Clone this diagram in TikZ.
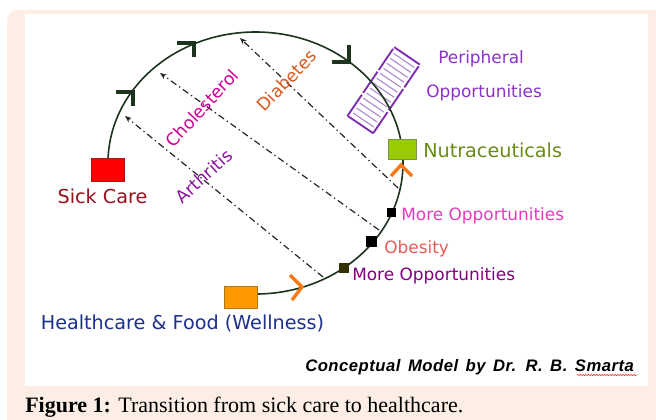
\documentclass[tikz,border=0pt]{standalone}
\usepackage{fontspec}
\setmainfont{DejaVu Sans}
\newfontfamily\serifcap{Liberation Serif}
\newfontfamily\creditsans[LetterSpace=3]{Liberation Sans}
\usetikzlibrary{arrows.meta,decorations.pathmorphing}

\definecolor{peach}{RGB}{252,238,228}
\definecolor{arcgreen}{RGB}{28,52,30}
\definecolor{sickred}{RGB}{150,18,28}
\definecolor{sickborder}{RGB}{170,20,20}
\definecolor{wellblue}{RGB}{28,48,140}
\definecolor{wellfill}{RGB}{255,153,0}
\definecolor{wellborder}{RGB}{170,120,30}
\definecolor{nutrafill}{RGB}{153,204,0}
\definecolor{nutraborder}{RGB}{120,150,70}
\definecolor{nutragreen}{RGB}{104,140,20}
\definecolor{periviolet}{RGB}{140,50,200}
\definecolor{oppink}{RGB}{228,60,190}
\definecolor{obesered}{RGB}{232,90,90}
\definecolor{opppurple}{RGB}{130,0,130}
\definecolor{cholmag}{RGB}{205,0,150}
\definecolor{diaborange}{RGB}{212,90,30}
\definecolor{arthpurple}{RGB}{140,20,160}
\definecolor{chevorange}{RGB}{250,120,20}
\definecolor{hatchline}{RGB}{125,45,175}
\definecolor{hatchrung}{RGB}{170,135,205}
\definecolor{darkolive}{RGB}{50,50,0}

\begin{document}
\begin{tikzpicture}
[x=0.75pt,y=-0.75pt,
 boxdecorate/.style={draw,line width=0.6pt,inner sep=0pt},
 squaredecorate/.style={draw,fill,inner sep=0pt},
 arcdecorate/.style={arcgreen,line width=1.2pt},
 darkchev/.style={arcgreen,line width=2.7pt,line join=miter},
 orangechev/.style={chevorange,line width=2.5pt,line join=miter},
 dashdecorate/.style={-{Stealth[length=5pt,width=4pt]},line width=0.9pt,black!85,
   dash pattern=on 5pt off 2.5pt on 1pt off 2.5pt},
 hatchside/.style={hatchline,line width=1.4pt},
 hatchrungs/.style={hatchrung,line width=0.8pt},
 smalllabel/.style={inner sep=0pt,font=\fontsize{12.7}{14}\selectfont},
 biglabel/.style={inner sep=0pt,font=\fontsize{14.4}{16}\selectfont},
 tiltlabel/.style={inner sep=0pt,font=\fontsize{13}{15}\selectfont}]
% page, frame and white panel
\useasboundingbox (0,0) rectangle (656,419);
\clip (0,0) rectangle (656,419);
\fill[white] (0,0) rectangle (656,419);
\fill[peach,rounded corners=8] (7,10) rectangle (690,450);
\fill[white] (25,14) rectangle (648,386);
% hatched block across the arc
\begin{scope}[shift={(383.7,90.2)},rotate=55.8]
  \foreach \s in {-41.5,-13.8,13.9}
  {
    \draw[hatchside] (\s,-15.5) -- ++(25.6,0);
    \draw[hatchside] (\s,15.5) -- ++(25.6,0);
  }
  \draw[hatchside] (-41.5,-15.5) -- (-41.5,15.5);
  \draw[hatchside] (41.5,-15.5) -- (41.5,15.5);
  \foreach \r in {-36,-30,...,36}
    \draw[hatchrungs] (\r,-12.5) -- (\r,12.5);
\end{scope}
% dash-dot transitions
\coordinate (arthlow) at (323,277);
\coordinate (arthup) at (125,116);
\coordinate (chollow) at (379,230);
\coordinate (cholup) at (160,73);
\coordinate (diablow) at (398,188);
\coordinate (diabup) at (240,38);
\draw[dashdecorate] (arthlow) -- (arthup);
\draw[dashdecorate] (chollow) -- (cholup);
\draw[dashdecorate] (diablow) -- (diabup);
% the arc
\coordinate (c) at (255.5,163);
\draw[arcdecorate] (c) ++(180:147.5 and 131)
  arc[start angle=180,end angle=450,x radius=147.5,y radius=131];
% chevrons on the arc
\coordinate (chev1) at (133,92);
\coordinate (chev2) at (194,43);
\coordinate (chev3) at (349,62);
\coordinate (chev4) at (302,287);
\coordinate (chev5) at (401,165);
\draw[darkchev] (chev1) ++(-17,0) -- ++(17,0) -- ++(0,14);
\draw[darkchev] (chev2) ++(-17,0) -- ++(17,0) -- ++(0,14);
\draw[darkchev] (chev3) ++(-17,0) -- ++(17,0) -- ++(0,-17);
\draw[orangechev] (chev4) ++(-12,-12) -- ++(12,12) -- ++(-10,13);
\draw[orangechev] (chev5) ++(-10,11) -- ++(10,-11) -- ++(11,11);
% boxes
\node (sick) at (107.5,169.5) [boxdecorate,fill=red,draw=sickborder,
  minimum width=24.75pt,minimum height=17.25pt] {};
\node (well) at (240.5,297) [boxdecorate,fill=wellfill,draw=wellborder,
  minimum width=24.75pt,minimum height=16.5pt] {};
\node (nutra) at (402,149) [boxdecorate,fill=nutrafill,draw=nutraborder,
  minimum width=21pt,minimum height=15pt] {};
\node (opp1) at (391,212) [squaredecorate,minimum size=6.2pt] {};
\node (obes) at (371,241.5) [squaredecorate,minimum size=7.4pt] {};
\node (opp2) at (344,268) [squaredecorate,fill=darkolive,draw=darkolive,minimum size=6.4pt] {};
% labels
\node (lsick) [biglabel,text=sickred,anchor=base] at (102.5,203) {Sick Care};
\node (lwell) [biglabel,text=wellblue,anchor=base] at (182.5,329) {Healthcare \& Food (Wellness)};
\node (lnutra) [biglabel,text=nutragreen,anchor=base west] at (423,157) {Nutraceuticals};
\node (lperi) [smalllabel,text=periviolet,anchor=base west] at (438,63) {Peripheral};
\node (lperi2) [smalllabel,text=periviolet,anchor=base west] at (426,97) {Opportunities};
\node (lopp1) [smalllabel,text=oppink,anchor=base west] at (401,220) {More Opportunities};
\node (lobes) [smalllabel,text=obesered,anchor=base west] at (384,253) {Obesity};
\node (lopp2) [smalllabel,text=opppurple,anchor=base west] at (352,280) {More Opportunities};
\node (lchol) [tiltlabel,text=cholmag,rotate=47] at (202,108) {Cholesterol};
\node (ldiab) [tiltlabel,text=diaborange,rotate=46] at (286.5,80.5) {Diabetes};
\node (larth) [tiltlabel,text=arthpurple,rotate=42] at (204,176) {Arthritis};
% credit line and caption
\node (credit) [inner sep=0pt,anchor=base west] at (305,371)
  {\creditsans\bfseries\itshape\fontsize{12.5}{14}\selectfont\spaceskip=0.45em
   Conceptual Model by Dr. R. B. Smarta};
\draw[red!85,line width=0.4pt,decorate,decoration={snake,amplitude=0.5pt,segment length=2pt}]
  (577,375) -- (637,375);
\node (caption) [inner sep=0pt,anchor=base west] at (25,412)
  {\serifcap\fontsize{16.5}{18}\selectfont\textbf{Figure 1:} Transition from sick care to healthcare.};
\end{tikzpicture}
\end{document}
